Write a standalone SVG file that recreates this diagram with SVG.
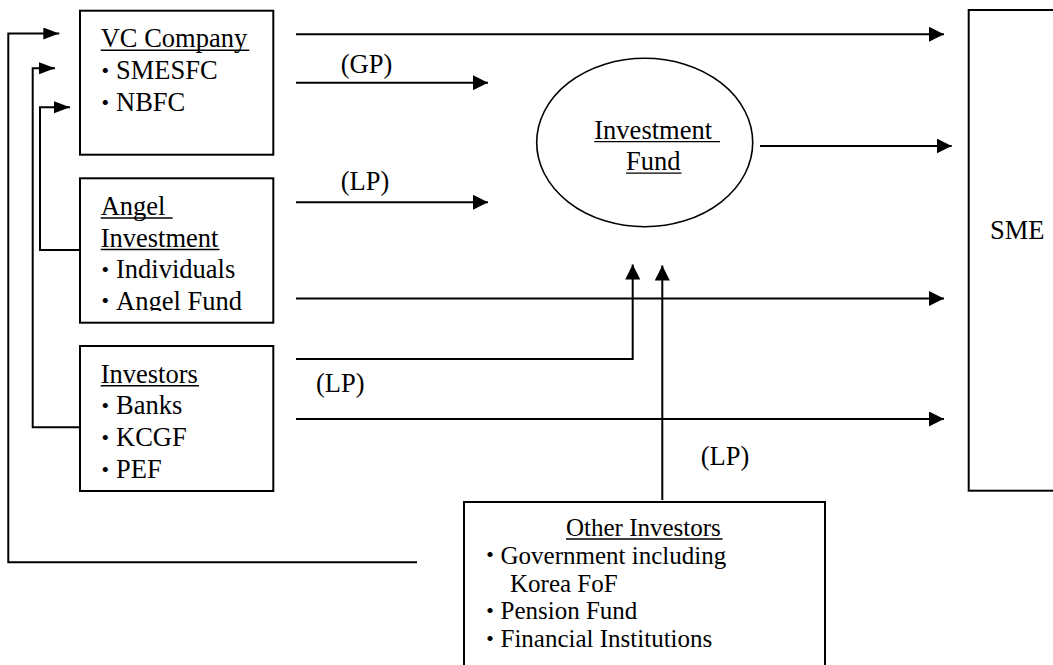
<svg xmlns="http://www.w3.org/2000/svg" width="1053" height="665" viewBox="0 0 1053 665">
<style>
.box{fill:#fff;stroke:#000;stroke-width:2}
.t{font-family:"Liberation Serif","Times New Roman",serif;font-size:26.5px;fill:#000}
.t2{font-family:"Liberation Serif","Times New Roman",serif;font-size:25px;fill:#000}
.b{font-family:"Noto Sans CJK JP","Noto Sans CJK SC",sans-serif;font-size:20px;font-weight:bold}
.u{stroke:#000;stroke-width:1.4}
.c{fill:none;stroke:#000;stroke-width:2}
</style>
<defs>
<marker id="ah" markerUnits="userSpaceOnUse" markerWidth="16" markerHeight="15" refX="15" refY="7.5" orient="auto">
<path d="M0,0 L15,7.5 L0,15 z" fill="#000"/>
</marker>
<marker id="ahs" markerUnits="userSpaceOnUse" markerWidth="16" markerHeight="13" refX="16" refY="6" orient="auto">
<path d="M0,0 L16,6 L0,12 z" fill="#000"/>
</marker>
<clipPath id="clipAF"><rect x="80" y="285" width="193" height="26"/></clipPath>
</defs>
<rect width="1053" height="665" fill="#fff"/>

<g id="connectors">
<path class="c" d="M296,34.3 H944" marker-end="url(#ah)"/>
<path class="c" d="M296,82.7 H488" marker-end="url(#ah)"/>
<path class="c" d="M296,202.3 H488" marker-end="url(#ah)"/>
<path class="c" d="M760,146 H951.7" marker-end="url(#ah)"/>
<path class="c" d="M296,298.5 H944" marker-end="url(#ah)"/>
<path class="c" d="M296,359 H632.7 V264.5" marker-end="url(#ah)"/>
<path class="c" d="M296,419 H944" marker-end="url(#ah)"/>
<path class="c" d="M662.3,500 V265.5" marker-end="url(#ah)"/>
<path class="c" d="M417,562.3 H8.3 V33.5 H59.3" marker-end="url(#ahs)"/>
<path class="c" d="M80,427.3 H32.7 V68.3 H55" marker-end="url(#ahs)"/>
<path class="c" d="M80,250 H40 V107.3 H70" marker-end="url(#ahs)"/>
<text class="t" x="340.7" y="72.5">(GP)</text>
<text class="t" x="340.7" y="190">(LP)</text>
<text class="t" x="316" y="391.7">(LP)</text>
<text class="t" x="700.7" y="465">(LP)</text>
</g>

<g id="vc-company">
<rect class="box" x="80" y="10.7" width="193.3" height="144"/>
<text class="t" x="100.7" y="47.3">VC Company</text>
<line class="u" x1="100.7" y1="50.3" x2="249.3" y2="50.3"/>
<text class="t" y="79.3"><tspan class="b" x="95.3" dy="-1.5">・</tspan><tspan x="116" dy="1.5">SMESFC</tspan></text>
<text class="t" y="111.3"><tspan class="b" x="95.3" dy="-1.5">・</tspan><tspan x="116" dy="1.5">NBFC</tspan></text>
</g>

<g id="angel-investment">
<rect class="box" x="80" y="178.3" width="193.3" height="144.4"/>
<text class="t" x="100.7" y="215">Angel</text>
<line class="u" x1="100.7" y1="218" x2="172.7" y2="218"/>
<text class="t" x="100.7" y="246.5">Investment</text>
<line class="u" x1="100.7" y1="249.5" x2="219.5" y2="249.5"/>
<text class="t" y="278"><tspan class="b" x="95.3" dy="-1.5">・</tspan><tspan x="116" dy="1.5">Individuals</tspan></text>
<text class="t" y="309.5" clip-path="url(#clipAF)"><tspan class="b" x="95.3" dy="-1.5">・</tspan><tspan x="116" dy="1.5">Angel Fund</tspan></text>
</g>

<g id="investors">
<rect class="box" x="80" y="346" width="193.3" height="145"/>
<text class="t" x="100.7" y="382.7">Investors</text>
<line class="u" x1="100.7" y1="385.8" x2="199" y2="385.8"/>
<text class="t" y="414.3"><tspan class="b" x="95.3" dy="-1.5">・</tspan><tspan x="116" dy="1.5">Banks</tspan></text>
<text class="t" y="446.3"><tspan class="b" x="95.3" dy="-1.5">・</tspan><tspan x="116" dy="1.5">KCGF</tspan></text>
<text class="t" y="478"><tspan class="b" x="95.3" dy="-1.5">・</tspan><tspan x="116" dy="1.5">PEF</tspan></text>
</g>

<g id="investment-fund">
<ellipse cx="644.7" cy="142.5" rx="108" ry="84.2" fill="#fff" stroke="#000" stroke-width="1.6"/>
<text class="t" x="594.3" y="138.5">Investment</text>
<line class="u" x1="594.3" y1="141.6" x2="720" y2="141.6"/>
<text class="t" x="626" y="170">Fund</text>
<line class="u" x1="626" y1="173.1" x2="681.5" y2="173.1"/>
</g>

<g id="sme">
<rect class="box" x="968.7" y="10" width="120" height="480.7"/>
<text class="t" x="990" y="239">SME</text>
</g>

<g id="other-investors">
<rect class="box" x="464" y="502" width="361" height="220"/>
<text class="t2" x="566" y="536">Other Investors</text>
<line class="u" x1="566" y1="539" x2="722.5" y2="539"/>
<text class="t2" y="563.8"><tspan class="b" x="480" dy="-1.5">・</tspan><tspan x="500.5" dy="1.5">Government including</tspan></text>
<text class="t2" x="510" y="591.6">Korea FoF</text>
<text class="t2" y="619.4"><tspan class="b" x="480" dy="-1.5">・</tspan><tspan x="500.5" dy="1.5">Pension Fund</tspan></text>
<text class="t2" y="647.2"><tspan class="b" x="480" dy="-1.5">・</tspan><tspan x="500.5" dy="1.5">Financial Institutions</tspan></text>
</g>
</svg>
